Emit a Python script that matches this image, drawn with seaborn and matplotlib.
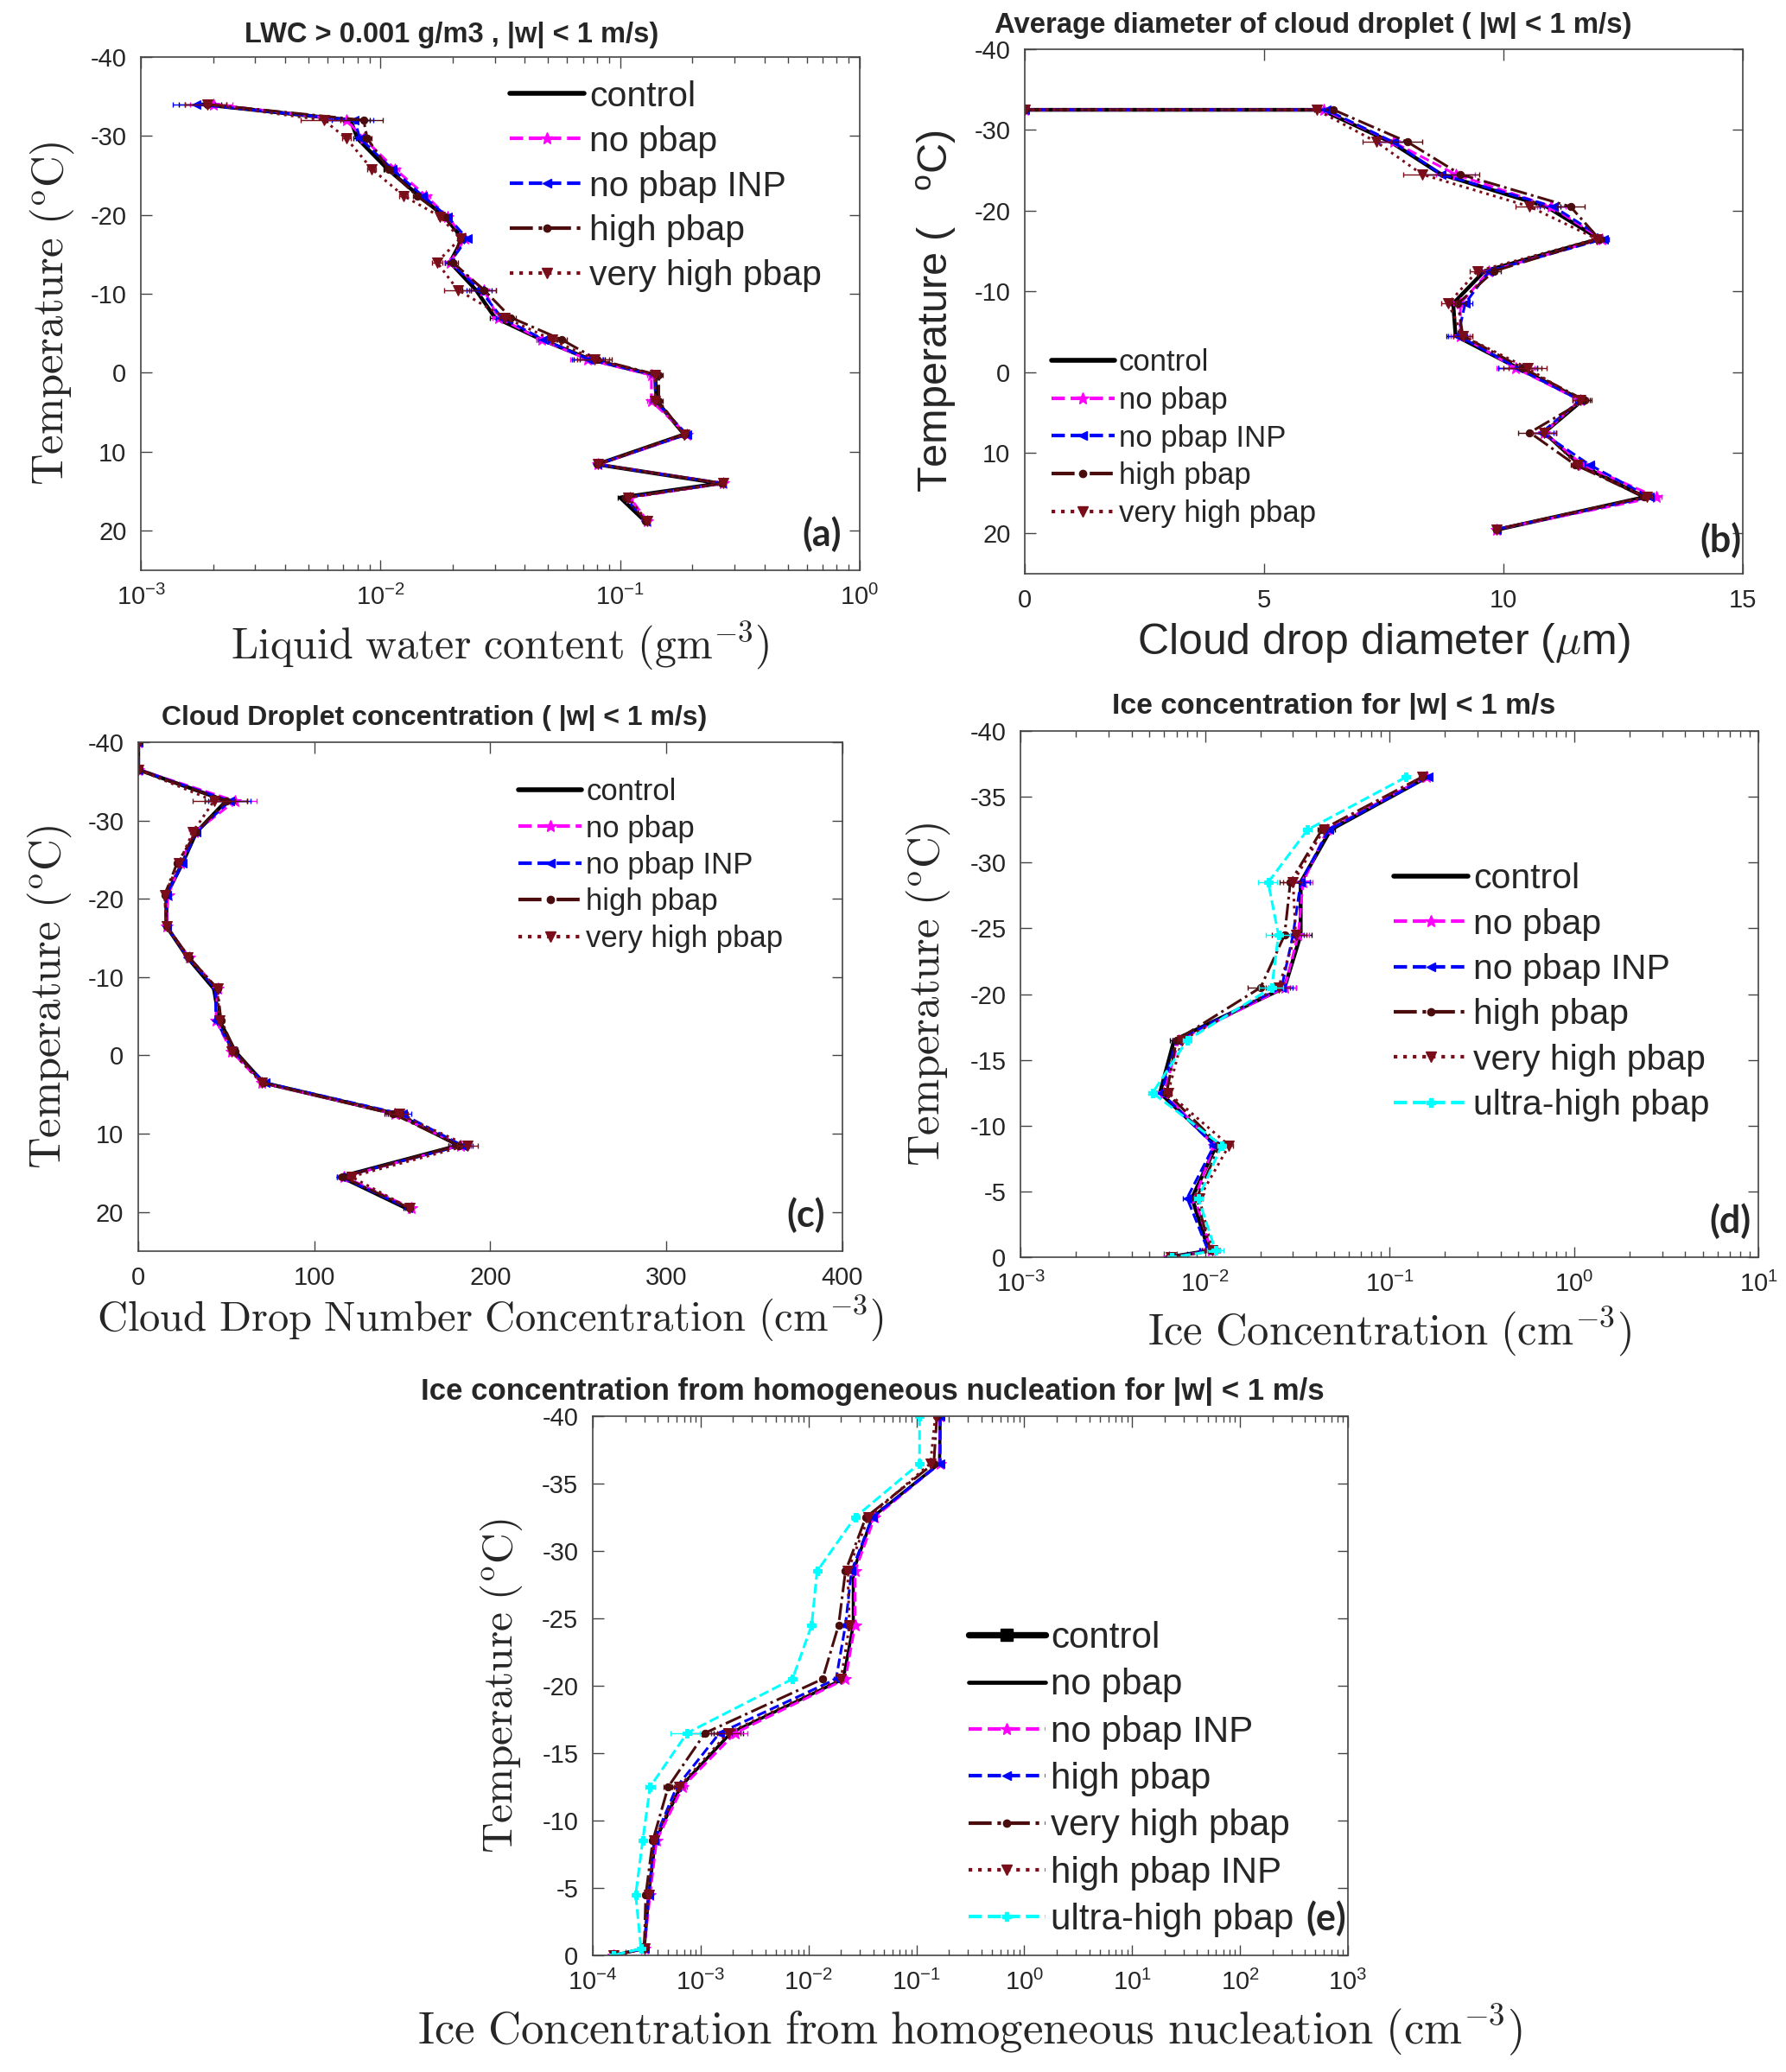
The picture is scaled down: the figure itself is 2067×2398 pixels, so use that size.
import numpy as np
import pandas as pd
import seaborn as sns
import matplotlib.pyplot as plt
from matplotlib.lines import Line2D
from matplotlib.ticker import FixedLocator, FuncFormatter, LogLocator, NullFormatter

# ---------------- data ----------------
# (a) liquid water content, g m-3
a_temp = [-34, -32, -29.7, -25.8, -22.4, -19.8, -17, -14, -10.5, -7, -4.2, -1.7, 0.3, 3.6, 7.8, 11.6, 14, 15.8, 18.8]
a_control = [0.0018, 0.0075, 0.0080, 0.0107, 0.0145, 0.0185, 0.022, 0.0195, 0.025, 0.030, 0.047, 0.075, 0.140, 0.142, 0.185, 0.080, 0.26, 0.10, 0.127]
a_no_pbap = [0.0020, 0.0072, 0.0085, 0.0115, 0.0155, 0.019, 0.0225, 0.0195, 0.027, 0.031, 0.047, 0.073, 0.135, 0.135, 0.19, 0.081, 0.27, 0.11, 0.13]
a_no_pbap_inp = [0.0017, 0.0078, 0.0082, 0.0112, 0.015, 0.019, 0.023, 0.0195, 0.026, 0.032, 0.048, 0.074, 0.14, 0.14, 0.19, 0.08, 0.265, 0.105, 0.128]
a_high = [0.0019, 0.0085, 0.0088, 0.0108, 0.0142, 0.0185, 0.0215, 0.020, 0.027, 0.035, 0.057, 0.08, 0.145, 0.145, 0.185, 0.08, 0.265, 0.105, 0.128]
a_very_high = [0.0019, 0.0058, 0.0072, 0.0092, 0.0125, 0.0177, 0.0215, 0.0172, 0.021, 0.033, 0.052, 0.078, 0.14, 0.14, 0.185, 0.081, 0.27, 0.108, 0.13]
a_err = [0.2, 0.2, 0.04, 0.04, 0.04, 0.02, 0.02, 0.05, 0.12, 0.05, 0.05, 0.15, 0.04, 0.04, 0.02, 0.01, 0.02, 0.02, 0.02]

# (b) cloud drop diameter, um
b_temp = [-32.5, -32.5, -28.5, -24.5, -20.5, -16.5, -12.5, -8.5, -4.5, -0.5, 3.5, 7.5, 11.5, 15.5, 19.5]
b_control = [0, 6.2, 7.65, 8.7, 10.9, 12.0, 9.6, 8.95, 9.0, 10.3, 11.65, 10.85, 11.6, 12.95, 9.9]
b_no_pbap = [0, 6.25, 7.7, 9.0, 11.0, 12.05, 9.7, 9.1, 9.1, 10.25, 11.6, 10.85, 11.65, 13.2, 9.85]
b_no_pbap_inp = [0, 6.3, 7.7, 8.7, 11.05, 12.1, 9.7, 9.2, 9.05, 10.3, 11.6, 10.8, 11.8, 13.05, 9.85]
b_high = [0, 6.45, 8.0, 9.1, 11.4, 12.0, 9.8, 9.05, 9.15, 10.4, 11.7, 10.55, 11.5, 12.95, 9.85]
b_very_high = [0, 6.1, 7.35, 8.3, 10.55, 11.95, 9.45, 8.85, 9.15, 10.5, 11.6, 10.85, 11.55, 13.0, 9.85]
b_err = [0, 0.05, 0.3, 0.4, 0.3, 0.1, 0.15, 0.15, 0.2, 0.4, 0.15, 0.25, 0.1, 0.1, 0.05]

# (c) cloud drop number concentration, cm-3
c_temp = [-40, -36.5, -32.5, -28.5, -24.5, -20.5, -16.5, -12.5, -8.5, -4.5, -0.5, 3.5, 7.5, 11.5, 15.5, 19.5]
c_control = [0, 0, 50, 33, 25, 16, 16, 28, 43, 46, 55, 71, 147, 182, 115, 152]
c_no_pbap = [0, 0, 55, 32, 24, 17, 16, 29, 45, 44, 53, 70, 146, 183, 117, 155]
c_no_pbap_inp = [0, 0, 52, 33, 25, 16, 16, 28, 44, 44, 54, 72, 150, 184, 115, 153]
c_high = [0, 0, 50, 33, 22, 15, 16, 29, 45, 47, 55, 71, 145, 182, 116, 154]
c_very_high = [0, 0, 43, 31, 23, 15, 16, 28, 45, 46, 53, 70, 148, 187, 121, 154]
c_err = [0, 0, 12, 1.5, 1, 0.5, 0.5, 1, 1, 1, 1.5, 1.5, 5, 6, 2, 1.5]

# (d) ice concentration, cm-3
d_temp = [-36.5, -32.5, -28.5, -24.5, -20.5, -16.5, -12.5, -8.5, -4.5, -0.5, 0]
d_control = [0.160, 0.048, 0.033, 0.033, 0.027, 0.0068, 0.0057, 0.0115, 0.0085, 0.0105, 0.0063]
d_no_pbap = [0.158, 0.046, 0.034, 0.032, 0.027, 0.0072, 0.0060, 0.0112, 0.0088, 0.0108, 0.0064]
d_no_pbap_inp = [0.162, 0.047, 0.033, 0.030, 0.026, 0.0070, 0.0058, 0.0112, 0.0080, 0.0104, 0.0063]
d_high = [0.150, 0.043, 0.029, 0.027, 0.020, 0.0070, 0.0062, 0.0120, 0.0090, 0.0107, 0.0064]
d_very_high = [0.150, 0.044, 0.030, 0.031, 0.025, 0.0075, 0.0063, 0.0135, 0.0093, 0.0110, 0.0065]
d_ultra = [0.123, 0.036, 0.022, 0.025, 0.023, 0.0080, 0.0052, 0.0123, 0.0092, 0.0114, 0.0066]
d_err = [0.03, 0.05, 0.12, 0.15, 0.15, 0.05, 0.05, 0.05, 0.05, 0.1, 0]

# (e) ice from homogeneous nucleation, cm-3
e_temp = [-40, -36.5, -32.5, -28.5, -24.5, -20.5, -16.5, -12.5, -8.5, -4.5, -0.5, 0]
e_control = [0.166, 0.164, 0.039, 0.026, 0.026, 0.021, 0.0019, 0.00065, 0.00038, 0.00033, 0.0003, 0.000155]
e_no_pbap = [0.166, 0.164, 0.039, 0.026, 0.026, 0.021, 0.0019, 0.00065, 0.00038, 0.00033, 0.0003, 0.000155]
e_no_pbap_inp = [0.165, 0.165, 0.041, 0.027, 0.027, 0.022, 0.0021, 0.00068, 0.00039, 0.00034, 0.0003, 0.000155]
e_high = [0.166, 0.166, 0.039, 0.025, 0.022, 0.018, 0.0015, 0.0006, 0.00037, 0.00033, 0.0003, 0.000155]
e_very_high = [0.155, 0.145, 0.034, 0.022, 0.019, 0.0135, 0.0011, 0.0005, 0.00036, 0.00031, 0.0003, 0.000155]
e_high_inp = [0.15, 0.135, 0.036, 0.023, 0.024, 0.02, 0.0018, 0.00063, 0.00037, 0.00033, 0.0003, 0.000155]
e_ultra = [0.107, 0.107, 0.027, 0.012, 0.0107, 0.0071, 0.00075, 0.00034, 0.00029, 0.00025, 0.00028, 0.000155]
e_err = [0, 0.02, 0.03, 0.05, 0.05, 0.05, 0.3, 0.1, 0.05, 0.05, 0.02, 0]

# ---------------- styles ----------------
BLACK = "black"
MAGENTA = "#ff00ff"
BLUE = "#0000ff"
BROWN = "#4a0c0c"
DKRED = "#7a0d1a"
CYAN = "#00ffff"

st_control = dict(color=BLACK, ls="-", lw=3.2, marker=None, ms=0)
st_black = dict(color=BLACK, ls="-", lw=2.6, marker=None, ms=0)
st_mag = dict(color=MAGENTA, ls="--", lw=2.2, marker="*", ms=10)
st_blue = dict(color=BLUE, ls="--", lw=2.2, marker="<", ms=7)
st_brown = dict(color=BROWN, ls="-.", lw=2.2, marker="o", ms=6)
st_dkred = dict(color=DKRED, ls=":", lw=2.2, marker="v", ms=8)
st_cyan = dict(color=CYAN, ls="--", lw=2.2, marker="P", ms=7)

sns.set_style("ticks")
plt.rcParams["font.family"] = ["Liberation Sans", "DejaVu Sans"]
plt.rcParams["mathtext.fontset"] = "cm"
plt.rcParams["mathtext.default"] = "regular"
plt.rcParams["axes.unicode_minus"] = False
plt.rcParams["xtick.direction"] = "in"
plt.rcParams["ytick.direction"] = "in"
plt.rcParams["axes.edgecolor"] = "#444444"

fig = plt.figure(figsize=(20.67, 23.98), dpi=100)


def log_fmt(v, pos):
    return "10$^{%d}$" % int(round(np.log10(v)))


def draw_panel(ax, temps, series, err, logx, xlim, ylim, yticks, xticks=None):
    if logx:
        ax.set_xscale("log")
    for label, vals, st in series:
        vals = np.asarray(vals, dtype=float)
        sns.lineplot(x=vals, y=temps, ax=ax, color=st["color"], linestyle=st["ls"],
                     linewidth=st["lw"], marker=st["marker"], markersize=st["ms"],
                     markeredgecolor=st["color"], markerfacecolor=st["color"],
                     estimator=None, sort=False, legend=False)
        e = np.asarray(err, dtype=float)
        xe = vals * e if logx else e
        ax.errorbar(vals, temps, xerr=xe, fmt="none", ecolor=st["color"],
                    elinewidth=1.0, capsize=2.5, capthick=1.0)
    ax.set_xlim(*xlim)
    ax.set_ylim(*ylim)
    ax.yaxis.set_major_locator(FixedLocator(yticks))
    ax.set_yticklabels([str(t) for t in yticks])
    if logx:
        ax.xaxis.set_major_locator(LogLocator(base=10, numticks=20))
        ax.xaxis.set_minor_locator(LogLocator(base=10, subs=np.arange(2, 10), numticks=50))
        ax.xaxis.set_major_formatter(FuncFormatter(log_fmt))
        ax.xaxis.set_minor_formatter(NullFormatter())
    else:
        ax.xaxis.set_major_locator(FixedLocator(xticks))
        ax.set_xticklabels([str(t) for t in xticks])
    ax.tick_params(which="both", top=True, right=True, labelsize=21, pad=12,
                   length=9, width=1, color="#444444")
    ax.tick_params(which="minor", length=5)
    for s in ax.spines.values():
        s.set_linewidth(1.2)


def add_legend(ax, series, anchor, fs, spacing):
    handles = []
    for label, vals, st in series:
        handles.append(Line2D([], [], color=st["color"], ls=st["ls"], lw=st["lw"] + 0.8,
                              marker=st["marker"], markersize=st["ms"], label=label))
    ax.legend(handles=handles, loc="upper left", bbox_to_anchor=anchor, frameon=False,
              fontsize=fs, handlelength=2.1, handletextpad=0.15, labelspacing=spacing,
              borderpad=0, borderaxespad=0)


TEMP_CM = r"$\mathrm{Temperature\ (^oC)}$"

# ---------- (a) ----------
ax_a = fig.add_axes([0.0789, 0.7248, 0.4025, 0.2477])
ser_a = [("control", a_control, st_control), ("no pbap", a_no_pbap, st_mag),
         ("no pbap INP", a_no_pbap_inp, st_blue), ("high pbap", a_high, st_brown),
         ("very high pbap", a_very_high, st_dkred)]
draw_panel(ax_a, a_temp, ser_a, a_err, True, (1e-3, 1), (25, -40), list(range(-40, 21, 10)))
add_legend(ax_a, ser_a, (0.513, 0.955), 29.5, 0.34)
ax_a.set_xlabel(r"$\mathrm{Liquid\ water\ content\ (gm^{-3})}$", fontsize=36, va="center")
ax_a.set_ylabel(TEMP_CM, fontsize=36.5, va="center")
ax_a.xaxis.set_label_coords(0.5, -0.148)
ax_a.yaxis.set_label_coords(-0.124, 0.5)
ax_a.text(0.975, 0.035, "(a)", transform=ax_a.transAxes, ha="right", va="bottom",
          fontsize=31, fontweight="bold", family="Lato")
fig.text(0.253, 0.9833, "LWC > 0.001 g/m3 , |w| < 1 m/s)", ha="center", va="center",
         fontsize=23.5, fontweight="bold")

# ---------- (b) ----------
ax_b = fig.add_axes([0.5738, 0.7231, 0.402, 0.2531])
ser_b = [("control", b_control, st_control), ("no pbap", b_no_pbap, st_mag),
         ("no pbap INP", b_no_pbap_inp, st_blue), ("high pbap", b_high, st_brown),
         ("very high pbap", b_very_high, st_dkred)]
draw_panel(ax_b, b_temp, ser_b, b_err, False, (0, 15), (25, -40), list(range(-40, 21, 10)),
           xticks=[0, 5, 10, 15])
add_legend(ax_b, ser_b, (0.037, 0.43), 25, 0.31)
ax_b.set_xlabel(r"Cloud drop diameter ($\mathit{\mu}$m)", fontsize=36, va="center")
ax_b.set_ylabel(r"Temperature (   $^o$C)", fontsize=35, va="center")
ax_b.xaxis.set_label_coords(0.5, -0.133)
ax_b.yaxis.set_label_coords(-0.123, 0.5)
ax_b.text(0.998, 0.03, "(b)", transform=ax_b.transAxes, ha="right", va="bottom",
          fontsize=31, fontweight="bold", family="Lato")
fig.text(0.7354, 0.9875, "Average diameter of cloud droplet ( |w| < 1 m/s)", ha="center",
         va="center", fontsize=23.7, fontweight="bold")

# ---------- (c) ----------
ax_c = fig.add_axes([0.0774, 0.3962, 0.3943, 0.2456])
ser_c = [("control", c_control, st_control), ("no pbap", c_no_pbap, st_mag),
         ("no pbap INP", c_no_pbap_inp, st_blue), ("high pbap", c_high, st_brown),
         ("very high pbap", c_very_high, st_dkred)]
draw_panel(ax_c, c_temp, ser_c, c_err, False, (0, 400), (25, -40), list(range(-40, 21, 10)),
           xticks=[0, 100, 200, 300, 400])
add_legend(ax_c, ser_c, (0.54, 0.93), 25, 0.27)
ax_c.set_xlabel(r"$\mathrm{Cloud\ Drop\ Number\ Concentration\ (cm^{-3})}$", fontsize=35,
                va="center")
ax_c.set_ylabel(TEMP_CM, fontsize=36.5, va="center")
ax_c.xaxis.set_label_coords(0.5, -0.132)
ax_c.yaxis.set_label_coords(-0.126, 0.5)
ax_c.text(0.975, 0.035, "(c)", transform=ax_c.transAxes, ha="right", va="bottom",
          fontsize=31, fontweight="bold", family="Lato")
fig.text(0.2434, 0.6535, "Cloud Droplet concentration ( |w| < 1 m/s)", ha="center",
         va="center", fontsize=23, fontweight="bold")

# ---------- (d) ----------
ax_d = fig.add_axes([0.5714, 0.3932, 0.4132, 0.254])
ser_d = [("control", d_control, st_control), ("no pbap", d_no_pbap, st_mag),
         ("no pbap INP", d_no_pbap_inp, st_blue), ("high pbap", d_high, st_brown),
         ("very high pbap", d_very_high, st_dkred), ("ultra-high pbap", d_ultra, st_cyan)]
draw_panel(ax_d, d_temp, ser_d, d_err, True, (1e-3, 10), (0, -40), list(range(-40, 1, 5)))
add_legend(ax_d, ser_d, (0.506, 0.75), 29.5, 0.35)
ax_d.set_xlabel(r"$\mathrm{Ice\ Concentration\ (cm^{-3})}$", fontsize=36.5, va="center")
ax_d.set_ylabel(TEMP_CM, fontsize=36.5, va="center")
ax_d.xaxis.set_label_coords(0.5, -0.141)
ax_d.yaxis.set_label_coords(-0.125, 0.5)
ax_d.text(0.99, 0.035, "(d)", transform=ax_d.transAxes, ha="right", va="bottom",
          fontsize=31, fontweight="bold", family="Lato")
fig.text(0.747, 0.6589, "Ice concentration for |w| < 1 m/s", ha="center", va="center",
         fontsize=24.3, fontweight="bold")

# ---------- (e) ----------
ax_e = fig.add_axes([0.3319, 0.0563, 0.4228, 0.2602])
ser_e = [("no pbap", e_no_pbap, st_black), ("no pbap INP", e_no_pbap_inp, st_mag),
         ("high pbap", e_high, st_blue), ("very high pbap", e_very_high, st_brown),
         ("high pbap INP", e_high_inp, st_dkred), ("ultra-high pbap", e_ultra, st_cyan)]
draw_panel(ax_e, e_temp, ser_e, e_err, True, (1e-4, 1e3), (0, -40), list(range(-40, 1, 5)))
leg_e = [("control", e_control, dict(color=BLACK, ls="-", lw=4.5, marker="s", ms=10))] + ser_e
add_legend(ax_e, leg_e, (0.498, 0.62), 30.3, 0.34)
ax_e.set_xlabel(r"$\mathrm{Ice\ Concentration\ from\ homogeneous\ nucleation\ (cm^{-3})}$",
                fontsize=38, va="center")
ax_e.set_ylabel(TEMP_CM, fontsize=35.5, va="center")
ax_e.xaxis.set_label_coords(0.5, -0.139)
ax_e.yaxis.set_label_coords(-0.121, 0.5)
ax_e.text(0.998, 0.035, "(e)", transform=ax_e.transAxes, ha="right", va="bottom",
          fontsize=31, fontweight="bold", family="Lato")
fig.text(0.4886, 0.3286, "Ice concentration from homogeneous nucleation for |w| < 1 m/s",
         ha="center", va="center", fontsize=25, fontweight="bold")

fig.savefig("out.png", dpi=100, facecolor="white")
